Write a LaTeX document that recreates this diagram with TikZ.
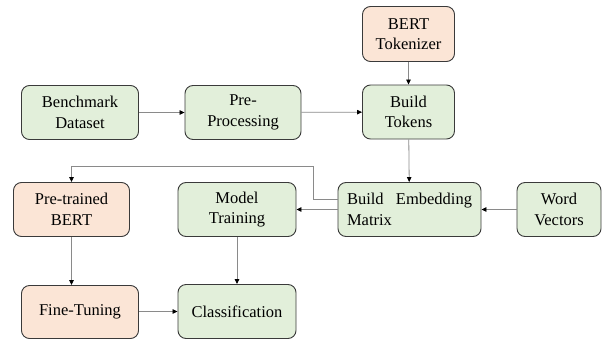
\documentclass[tikz,border=0pt]{standalone}
\usepackage{fontspec}
\setmainfont{Liberation Serif}
\usetikzlibrary{arrows.meta}
\definecolor{gfill}{HTML}{E2EFDA}
\definecolor{pfill}{HTML}{FBE5D6}
\definecolor{bord}{HTML}{3A3A3A}
\definecolor{conn}{HTML}{8A8A8A}
\begin{document}
\begin{tikzpicture}[x=1pt,y=-1pt,
  box/.style={draw=bord,line width=0.9pt,rounded corners=8pt,align=center,
    font=\fontsize{16.5}{20.5}\selectfont,inner sep=2pt,minimum height=54pt},
  gbox/.style={box,fill=gfill},
  pbox/.style={box,fill=pfill},
  arr/.style={draw=conn,line width=0.8pt,-{Triangle[length=5pt,width=4.5pt,black]}}]
\useasboundingbox (0,0) rectangle (604,340);
\node[pbox,minimum width=92pt,minimum height=55pt] (tok) at (408.5,34) {BERT\\Tokenizer};
\node[gbox,minimum width=117pt] (bench) at (80,112.5) {Benchmark\\Dataset};
\node[gbox,minimum width=116pt] (pre) at (243,112.5) {Pre-\\Processing};
\node[gbox,minimum width=92pt] (tokens) at (408.5,112) {Build\\Tokens};
\node[pbox,minimum width=116pt] (ptb) at (71.5,209.5) {Pre-trained\\BERT};
\node[gbox,minimum width=118pt] (mt) at (237,209.5) {Model\\Training};
\node[gbox,minimum width=143pt,text width=125pt,align=left] (bem) at (409.5,209.5) {Build\hfill Embedding\\Matrix};
\node[gbox,minimum width=84pt] (wv) at (559,209.5) {Word\\Vectors};
\node[pbox,minimum width=117pt,minimum height=53pt] (ft) at (80,312) {Fine-Tuning};
\node[gbox,minimum width=118pt] (cls) at (237,311.5) {Classification};
\coordinate (c1) at (313,199);
\coordinate (c2) at (313,166);
\coordinate (c3) at (71.5,166);
\draw[arr] (tok) -- (tokens);
\draw[arr] (bench) -- (pre);
\draw[arr] (pre) -- (tokens);
\draw[arr] (tokens) -- (bem);
\draw[arr] (wv) -- (bem);
\draw[arr] (bem) -- (mt);
\draw[arr] (bem.west |- c1) -- (c1) -- (c2) -- (c3) -- (ptb);
\draw[arr] (ptb.south) -- (ptb.south |- ft.north);
\draw[arr] (mt) -- (cls);
\draw[arr] (ft.east |- cls) -- (cls);
\end{tikzpicture}
\end{document}
